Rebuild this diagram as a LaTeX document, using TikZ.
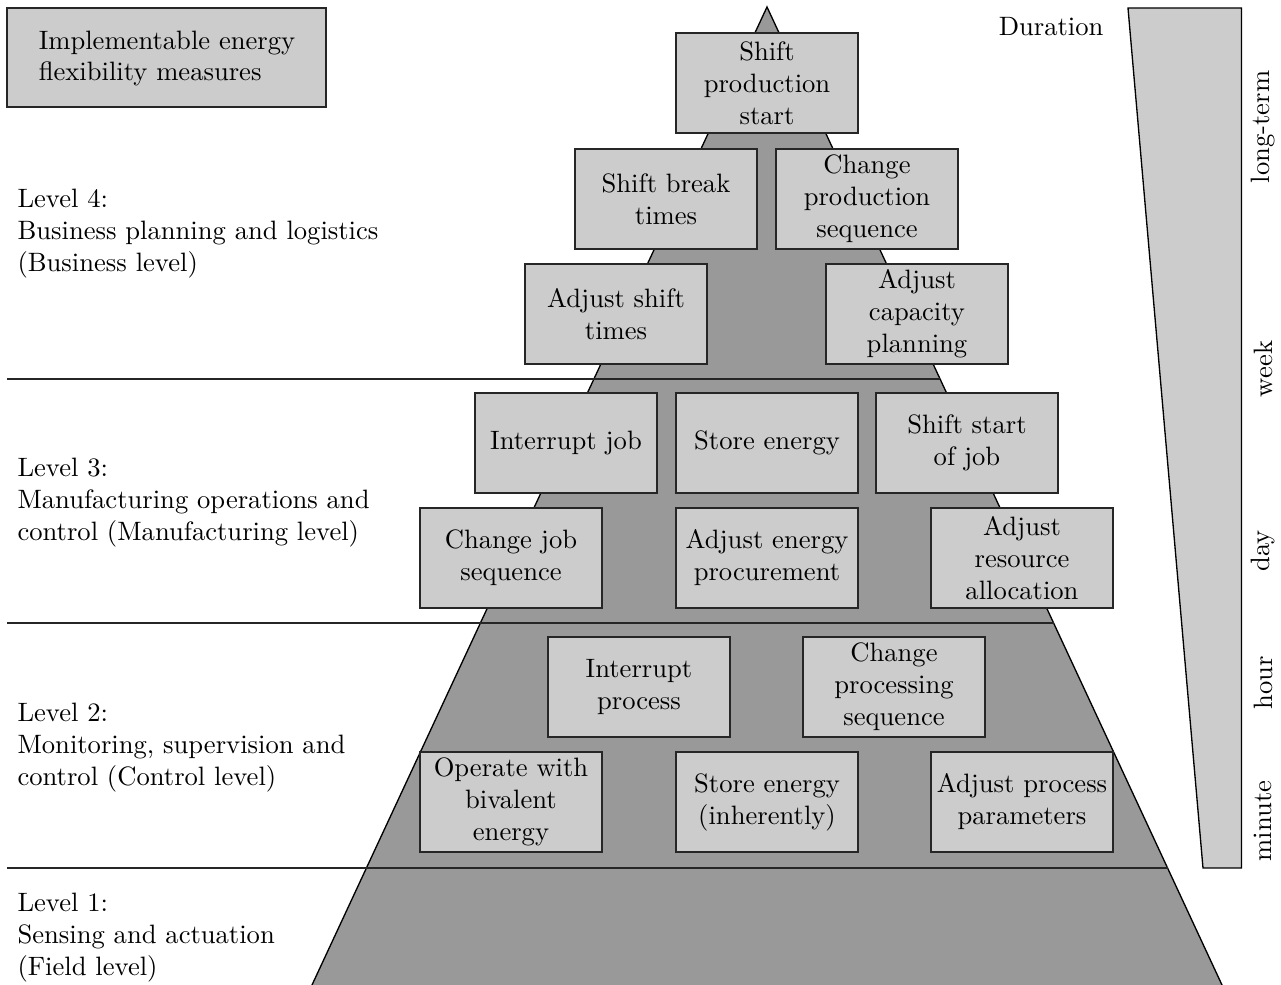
\documentclass[tikz,border=0pt]{standalone}
\usetikzlibrary{positioning}
\begin{document}
\begin{tikzpicture}[x=0.376pt,y=-0.376pt,
  measure/.style={draw=black!85,line width=0.5pt,fill=black!20,align=center,
    minimum width=68.4pt,minimum height=37.6pt,inner sep=1pt},
  levellabel/.style={anchor=west,align=left,inner sep=0pt},
  scalelabel/.style={rotate=90,inner sep=0pt},
  levelline/.style={draw=black!85,line width=0.5pt}]
\useasboundingbox (0,0) rectangle (1281,985);
% pyramid
\coordinate (apex) at (767,7);
\coordinate (bl) at (312,985);
\coordinate (br) at (1222,985);
\fill[black!40] (bl) -- (apex) -- (br) -- cycle;
\draw[line width=0.5pt] (bl) -- (apex) -- (br);
% level lines
\coordinate (l4a) at (7,379);  \coordinate (l4b) at (940,379);
\coordinate (l3a) at (7,623);  \coordinate (l3b) at (1053.6,623);
\coordinate (l2a) at (7,868);  \coordinate (l2b) at (1167.6,868);
\draw[levelline] (l4a) -- (l4b);
\draw[levelline] (l3a) -- (l3b);
\draw[levelline] (l2a) -- (l2b);
% legend
\node[draw=black!85,line width=0.5pt,fill=black!20,minimum width=119.9pt,minimum height=37.2pt,inner sep=0pt] (legend) at (166.5,57.5) {};
\node[align=left,inner sep=0pt] (legendtext) at (167,58.5) {Implementable energy\\flexibility measures};
% level labels
\node[levellabel] (lev4) at (17,234) {Level 4:\\Business planning and logistics\\(Business level)};
\node[levellabel] (lev3) at (17,503) {Level 3:\\Manufacturing operations and\\control (Manufacturing level)};
\node[levellabel] (lev2) at (17,748) {Level 2:\\Monitoring, supervision and\\control (Control level)};
\node[levellabel] (lev1) at (17,938) {Level 1:\\Sensing and actuation\\(Field level)};
% measures level 4
\node[measure] (m1) at (767,83) {Shift\\production\\start};
\node[measure] (m2) at (666,199) {Shift break\\times};
\node[measure] (m3) at (867,199) {Change\\production\\sequence};
\node[measure] (m4) at (616,314) {Adjust shift\\times};
\node[measure] (m5) at (917,314) {Adjust\\capacity\\planning};
% level 3
\node[measure] (m6) at (566,443) {Interrupt job};
\node[measure] (m7) at (767,443) {Store energy};
\node[measure] (m8) at (967,443) {Shift start\\of job};
\node[measure] (m9) at (511,558) {Change job\\sequence};
\node[measure] (m10) at (767,558) {Adjust energy\\procurement};
\node[measure] (m11) at (1022,558) {Adjust\\resource\\allocation};
% level 2
\node[measure] (m12) at (639,687) {Interrupt\\process};
\node[measure] (m13) at (894,687) {Change\\processing\\sequence};
\node[measure] (m14) at (511,802) {Operate with\\bivalent\\energy};
\node[measure] (m15) at (767,802) {Store energy\\(inherently)};
\node[measure] (m16) at (1022,802) {Adjust process\\parameters};
% duration wedge
\coordinate (w1) at (1128,8);
\coordinate (w2) at (1241.5,8);
\coordinate (w3) at (1241.5,868);
\coordinate (w4) at (1203,868);
\filldraw[fill=black!20,draw=black,line width=0.5pt] (w1) -- (w2) -- (w3) -- (w4) -- cycle;
\node[anchor=east,inner sep=0pt] (dur) at (1104,27) {Duration};
\node[scalelabel] (t1) at (1263,127) {long-term};
\node[scalelabel] (t2) at (1263,369) {week};
\node[scalelabel] (t3) at (1263,551) {day};
\node[scalelabel] (t4) at (1263,683) {hour};
\node[scalelabel] (t5) at (1263,821) {minute};
\end{tikzpicture}
\end{document}
